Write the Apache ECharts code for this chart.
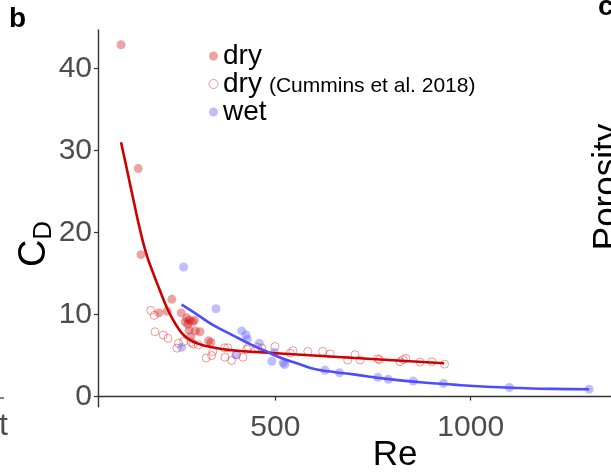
<!DOCTYPE html>
<html><head><meta charset="utf-8">
<script src="https://cdn.jsdelivr.net/npm/echarts@6/dist/echarts.min.js"></script>
<style>html,body{margin:0;padding:0;background:#fff}#c{width:611px;height:476px}</style>
</head><body><div id="c"></div>
<script>
// ---- data ----
const dryRe = [105,149,156,202,223,235,259,269,273,276,279,280,283,288,293,295,307,329,335];
const dryCD = [42.9,27.8,17.3,10.2,10.4,11.85,10.2,9.1,9.6,8.8,8.1,9.3,7.3,9.1,9.3,8.0,7.9,6.8,6.6];

const cumRe = [181,190,192,213,225,248,252,265,285,290,303,323,337,340,370,378,371,388,401,417,427,431,454,465,499,538,545,583,621,640,685,704,717,762,766,819,827,834,870,901,933];
const cumCD = [10.5,9.9,7.9,7.5,7.1,5.9,6.5,6.7,6.6,6.4,6.3,4.7,5.0,5.5,5.95,5.95,4.8,4.4,5.1,4.8,5.75,6.0,6.0,5.9,6.1,5.3,5.6,5.5,5.5,5.2,4.45,5.1,4.45,4.6,4.5,4.25,4.5,4.65,4.2,4.25,3.95];

const wetRe = [265,260,348,399,414,425,428,459,491,497,520,524,627,664,762,789,853,930,1099,1303];
const wetCD = [15.8,6.0,10.7,5.1,8.0,7.5,7.0,6.5,4.3,5.4,4.1,3.9,3.2,2.9,2.35,2.1,1.9,1.6,1.1,0.9];

const dryFitRe = [105,120.5,138.4,153.8,169.1,187.1,205,220.4,235.7,251,266.4,281.7,299.6,322.7,358.5,409.7,468.5,555.5,640,768,932];
const dryFitCD = [31.0,27.6,23.6,20.3,17.5,15.06,12.87,11.04,9.57,8.35,7.44,6.89,6.49,6.16,5.83,5.55,5.38,5.13,4.89,4.52,4.05];

const wetFitRe = [260,300,341,390,435,486,520,555,606,650,700,785,870,955,1041,1126,1211,1303];
const wetFitCD = [11.2,10.0,8.7,7.5,6.4,5.3,4.6,4.05,3.3,3.0,2.7,2.15,1.75,1.45,1.2,1.04,0.93,0.88];

const xTicks = [500, 1000];
const yTicks = [0, 10, 20, 30, 40];

const zip = (a, b) => a.map((v, i) => [v, b[i]]);
const FF = '"Liberation Sans", Arial, Helvetica, sans-serif';
const CUM = 'dry (Cummins et al. 2018)';

const chart = echarts.init(document.getElementById('c'), null, {renderer: 'canvas'});
chart.setOption({
  animation: false,
  backgroundColor: '#fff',
  grid: {left: 98, right: 0, top: 30, bottom: 69.3, containLabel: false},
  xAxis: {
    type: 'value', min: 46, max: 1359,
    axisLine: {show: true, lineStyle: {color: '#333', width: 1.4}},
    axisTick: {show: true, customValues: xTicks, length: 4, lineStyle: {color: '#333', width: 1.2}},
    axisLabel: {customValues: xTicks, formatter: v => String(v), fontSize: 30, color: '#4d4d4d', fontFamily: FF, margin: 6},
    splitLine: {show: false}
  },
  yAxis: {
    type: 'value', min: -1.24, max: 44.7,
    axisLine: {show: true, lineStyle: {color: '#333', width: 1.4}},
    axisTick: {show: true, customValues: yTicks, length: 4, lineStyle: {color: '#333', width: 1.2}},
    axisLabel: {customValues: yTicks, formatter: v => String(v), fontSize: 30, color: '#4d4d4d', fontFamily: FF, margin: 6},
    splitLine: {show: false}
  },
  legend: {
    orient: 'vertical', left: 208.5, top: 42, itemGap: 0, padding: 0,
    itemWidth: 9, itemHeight: 9, icon: 'circle',
    data: [
      {name: 'dry'},
      {name: CUM, itemStyle: {borderWidth: 1}},
      {name: 'wet'}
    ],
    formatter: n => n === CUM ? '{a|dry}{b|(Cummins et al. 2018)}' : '{a|' + n + '}',
    textStyle: {
      fontFamily: FF, color: '#000',
      rich: {
        a: {fontSize: 28, lineHeight: 27, fontFamily: FF, color: '#000'},
        b: {fontSize: 21, lineHeight: 21, verticalAlign: 'bottom', fontFamily: FF, color: '#000', padding: [0,0,1,7]}
      }
    }
  },
  series: [
    {name: CUM, type: 'scatter', symbol: 'circle', symbolSize: 8, data: zip(cumRe, cumCD),
     itemStyle: {color: 'rgba(0,0,0,0)', borderColor: 'rgba(220,0,0,0.5)', borderWidth: 1}},
    {name: 'dry', type: 'scatter', symbol: 'circle', symbolSize: 9, data: zip(dryRe, dryCD),
     itemStyle: {color: 'rgba(205,0,0,0.45)'}},
    {name: 'wet', type: 'scatter', symbol: 'circle', symbolSize: 9, data: zip(wetRe, wetCD),
     itemStyle: {color: 'rgba(77,77,255,0.45)'}},
    {name: 'dryfit', type: 'line', smooth: 0.5, showSymbol: false, data: zip(dryFitRe, dryFitCD),
     lineStyle: {color: '#d00000', width: 2.6}, z: 5},
    {name: 'wetfit', type: 'line', smooth: 0.5, showSymbol: false, data: zip(wetFitRe, wetFitCD),
     lineStyle: {color: '#4d4dff', width: 2.6}, z: 5}
  ],
  graphic: [
    {type: 'text', x: 9, y: 33, style: {text: 'b', font: 'bold 28px ' + FF, fill: '#000', verticalAlign: 'bottom'}},
    {type: 'text', x: 598, y: 21, style: {text: 'c', font: 'bold 28px ' + FF, fill: '#000', verticalAlign: 'bottom'}},
    {type: 'text', x: 590, y: 187, rotation: Math.PI / 2,
     style: {text: 'Porosity', font: '35px ' + FF, fill: '#000', align: 'center', verticalAlign: 'top'}},
    {type: 'text', x: 35, y: 244, rotation: Math.PI / 2,
     style: {text: '{c|C}{d|D}', align: 'center', verticalAlign: 'middle', fill: '#000',
       rich: {c: {fontSize: 38, lineHeight: 44, fontFamily: FF, color: '#000'},
              d: {fontSize: 26, lineHeight: 26, verticalAlign: 'bottom', fontFamily: FF, color: '#000'}}}},
    {type: 'text', x: 395, y: 455, style: {text: 'Re', font: '35px ' + FF, fill: '#000', align: 'center', verticalAlign: 'middle'}},
    {type: 'text', x: -1, y: 426, style: {text: 't', font: '32px ' + FF, fill: '#4d4d4d', verticalAlign: 'middle'}},
    {type: 'line', shape: {x1: 0, y1: 398, x2: 4, y2: 398}, style: {stroke: '#333', lineWidth: 1.2}}
  ]
});
</script>
</body></html>
